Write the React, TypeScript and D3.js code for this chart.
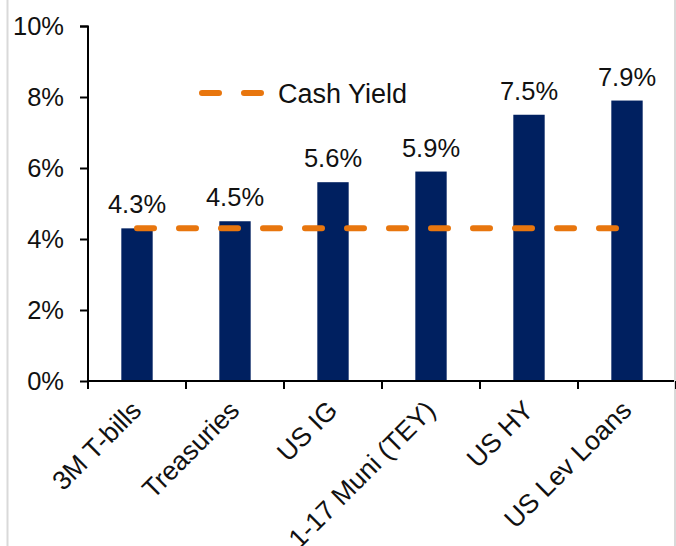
import { useEffect, useRef } from 'react';
import * as d3 from 'd3';

const categories = ['3M T-bills', 'Treasuries', 'US IG', '1-17 Muni (TEY)', 'US HY', 'US Lev Loans'];
const yields = [4.3, 4.5, 5.6, 5.9, 7.5, 7.9];
const cashYield = [4.3];
const yTicks = [0, 2, 4, 6, 8, 10];
const legendLabels = ['Cash Yield'];

const W = 676;
const H = 546;

export default function App() {
  const svgRef = useRef<SVGSVGElement>(null);

  useEffect(() => {
    const margin = { top: 26, right: 0, bottom: 165, left: 88 };
    const width = W - margin.left - margin.right;
    const height = H - margin.top - margin.bottom;
    const font = 'Arial, "Liberation Sans", sans-serif';

    d3.select(svgRef.current).selectAll('*').remove();
    const svg = d3.select(svgRef.current).attr('width', W).attr('height', H);

    // frame edges
    svg.append('line').attr('x1', 7.5).attr('x2', 7.5).attr('y1', 0).attr('y2', H)
      .attr('stroke', '#d9d9d9').attr('stroke-width', 2);
    svg.append('line').attr('x1', 675).attr('x2', 675).attr('y1', 0).attr('y2', H)
      .attr('stroke', '#d9d9d9').attr('stroke-width', 2);

    const g = svg.append('g').attr('transform', `translate(${margin.left},${margin.top})`);

    const x = d3.scaleBand().domain(categories).range([0, width]).paddingInner(0.68).paddingOuter(0.34);
    const y = d3.scaleLinear().domain([0, 10]).range([height, 0]);
    const step = x.step();

    // bars
    g.selectAll('.bar').data(yields).enter().append('rect')
      .attr('x', (_, i) => x(categories[i])!)
      .attr('y', d => y(d))
      .attr('width', x.bandwidth())
      .attr('height', d => height - y(d))
      .attr('fill', '#002060');

    // value labels
    g.selectAll('.val').data(yields).enter().append('text')
      .attr('x', (_, i) => x(categories[i])! + x.bandwidth() / 2)
      .attr('y', d => y(d) - 15)
      .attr('text-anchor', 'middle')
      .attr('font-family', font).attr('font-size', 25.5).attr('fill', '#111')
      .text(d => `${d.toFixed(1)}%`);

    // cash yield line
    const cx0 = x(categories[0])! + x.bandwidth() / 2;
    const cx1 = x(categories[categories.length - 1])! + x.bandwidth() / 2;
    g.append('line')
      .attr('x1', cx0).attr('x2', cx1)
      .attr('y1', y(cashYield[0])).attr('y2', y(cashYield[0]))
      .attr('stroke', '#E8760E').attr('stroke-width', 6)
      .attr('stroke-linecap', 'round').attr('stroke-dasharray', '17 25');

    // y axis
    g.append('g').call(d3.axisLeft(y).tickValues(yTicks).tickSize(8).tickPadding(16).tickFormat(d => `${d}%`))
      .call(a => {
        a.select('.domain').attr('stroke', '#000').attr('stroke-width', 2).attr('d', `M-8,0.5H0V${height}`);
        a.selectAll('line').attr('stroke', '#000').attr('stroke-width', 2);
        a.selectAll('text').attr('font-family', font).attr('font-size', 25.5).attr('fill', '#111');
      });

    // x axis
    const xa = g.append('g').attr('transform', `translate(0,${height})`);
    xa.append('line').attr('x1', 0).attr('x2', width - 2).attr('y1', 0).attr('y2', 0)
      .attr('stroke', '#000').attr('stroke-width', 2);
    xa.selectAll('.tick').data(d3.range(categories.length + 1)).enter().append('line')
      .attr('x1', i => i * step).attr('x2', i => i * step)
      .attr('y1', 0).attr('y2', 8)
      .attr('stroke', '#000').attr('stroke-width', 2);
    xa.selectAll('.lbl').data(categories).enter().append('text')
      .attr('transform', d => `translate(${x(d)! + x.bandwidth() / 2 + 6},31) rotate(-45)`)
      .attr('text-anchor', 'end')
      .attr('font-family', font).attr('font-size', 26.5).attr('fill', '#111')
      .text(d => d);

    // legend
    const lg = svg.append('g').attr('transform', 'translate(202,93)');
    lg.append('line').attr('x1', 0).attr('x2', 63).attr('y1', 0).attr('y2', 0)
      .attr('stroke', '#E8760E').attr('stroke-width', 6)
      .attr('stroke-linecap', 'round').attr('stroke-dasharray', '17 25');
    lg.append('text').attr('x', 76).attr('y', 9.5)
      .attr('font-family', font).attr('font-size', 27).attr('fill', '#111')
      .text(legendLabels[0]);
  }, []);

  return (
    <div style={{ position: 'absolute', left: 0, top: 0, width: W, height: H, background: '#fff' }}>
      <svg ref={svgRef} style={{ display: 'block' }} />
    </div>
  );
}
